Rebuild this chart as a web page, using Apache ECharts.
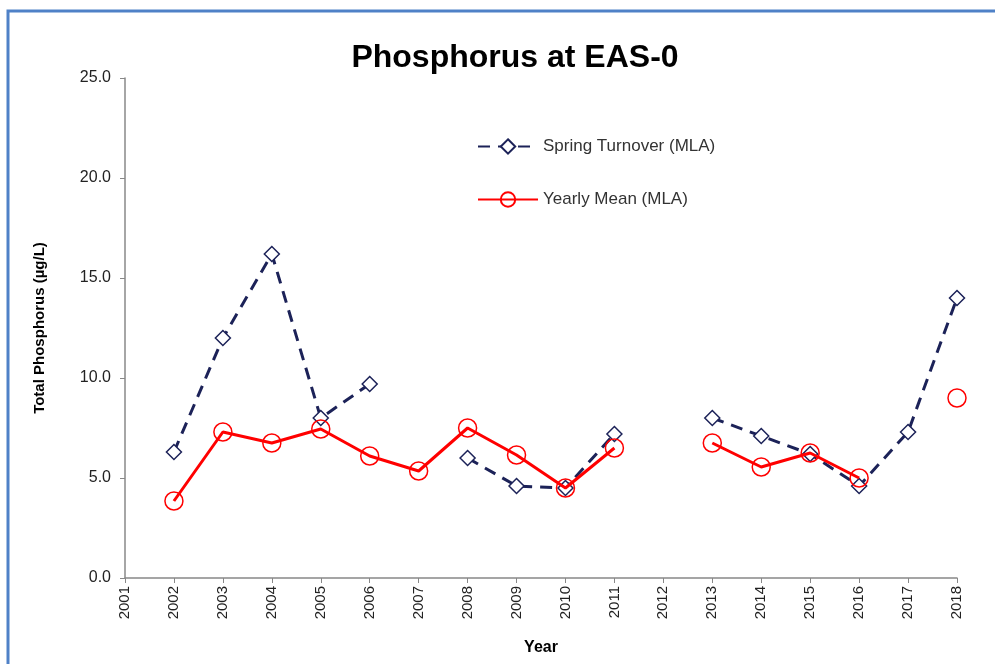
<!DOCTYPE html>
<html>
<head>
<meta charset="utf-8">
<script src="https://cdn.jsdelivr.net/npm/echarts@6/dist/echarts.min.js"></script>
<style>
  html, body { margin: 0; padding: 0; background: #fff; }
  #chart { width: 995px; height: 664px; }
</style>
</head>
<body>
<div id="chart"></div>
<script>
const years = ['2001', '2002', '2003', '2004', '2005', '2006', '2007', '2008', '2009',
  '2010', '2011', '2012', '2013', '2014', '2015', '2016', '2017', '2018'];
const springTurnover = [null, 6.3, 12.0, 16.2, 8.0, 9.7, null, 6.0, 4.6,
  4.5, 7.2, null, 8.0, 7.1, 6.2, 4.6, 7.3, 14.0];
const yearlyMean = [null, 3.85, 7.3, 6.75, 7.45, 6.1, 5.35, 7.5, 6.15,
  4.5, 6.5, null, 6.75, 5.55, 6.25, 5.0, null, 9.0];

const navy = '#1c2258';
const red = '#ff0000';
const font = 'Liberation Sans';

const chart = echarts.init(document.getElementById('chart'));
chart.setOption({
  animation: false,
  backgroundColor: '#fff',
  graphic: [{
    type: 'rect',
    shape: { x: 8, y: 11, width: 1000, height: 700 },
    style: { fill: 'none', stroke: '#4f81c7', lineWidth: 3 }
  }],
  title: {
    text: 'Phosphorus at EAS-0',
    left: 510,
    top: 37,
    textAlign: 'center',
    textStyle: { fontFamily: font, fontSize: 32, fontWeight: 'bold', color: '#000' }
  },
  legend: {
    orient: 'vertical',
    left: 472,
    top: 133,
    itemGap: 36,
    itemWidth: 60,
    itemHeight: 18,
    textStyle: { fontFamily: font, fontSize: 17, color: '#333' },
    data: ['Spring Turnover (MLA)', 'Yearly Mean (MLA)']
  },
  grid: { left: 125, right: 38, top: 78, bottom: 86 },
  xAxis: {
    type: 'category',
    data: years,
    boundaryGap: false,
    name: 'Year',
    nameLocation: 'middle',
    nameGap: 62,
    nameTextStyle: { fontFamily: font, fontSize: 16, fontWeight: 'bold', color: '#000' },
    axisLine: { lineStyle: { color: '#888', width: 1.5 } },
    axisTick: { alignWithLabel: true, length: 5, lineStyle: { color: '#888' } },
    axisLabel: { rotate: 90, fontFamily: font, fontSize: 15, color: '#222', margin: 8 }
  },
  yAxis: {
    type: 'value',
    min: 0,
    max: 25,
    interval: 5,
    name: 'Total Phosphorus (µg/L)',
    nameLocation: 'middle',
    nameGap: 78,
    nameTextStyle: { fontFamily: font, fontSize: 15, fontWeight: 'bold', color: '#000' },
    axisLine: { show: true, lineStyle: { color: '#888', width: 1.5 } },
    axisTick: { show: true, length: 5, lineStyle: { color: '#888' } },
    splitLine: { show: false },
    axisLabel: {
      fontFamily: font, fontSize: 16, color: '#222', margin: 14,
      formatter: v => v.toFixed(1)
    }
  },
  series: [
    {
      name: 'Spring Turnover (MLA)',
      type: 'line',
      data: springTurnover,
      connectNulls: false,
      symbol: 'diamond',
      symbolSize: 15,
      lineStyle: { color: navy, width: 3, type: [12, 8] },
      itemStyle: { color: '#fff', borderColor: navy, borderWidth: 1.5 },
      z: 2
    },
    {
      name: 'Yearly Mean (MLA)',
      type: 'line',
      data: yearlyMean,
      connectNulls: false,
      symbol: 'circle',
      symbolSize: 18,
      lineStyle: { color: red, width: 3 },
      itemStyle: { color: 'rgba(255,255,255,0)', borderColor: red, borderWidth: 1.5 },
      z: 3
    }
  ]
});
</script>
</body>
</html>
